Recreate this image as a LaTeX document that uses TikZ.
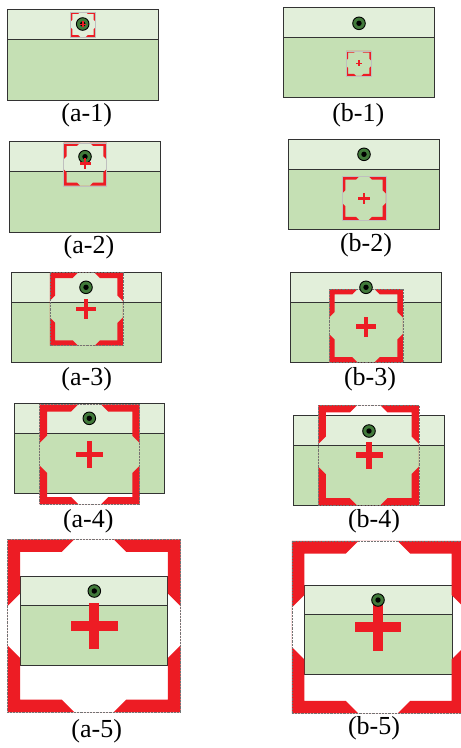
\documentclass[tikz,border=0pt]{standalone}
\usepackage{fontspec}
\setmainfont{Liberation Serif}
\definecolor{topg}{HTML}{E2EFDA}
\definecolor{botg}{HTML}{C5E0B4}
\definecolor{redx}{HTML}{ED1C24}
\definecolor{ring}{HTML}{41793A}
\definecolor{edge}{HTML}{333333}
% panel rectangle: x1 x2 ytop ydiv ybottom
\newcommand\panelrect[5]{%
  \fill[topg] (#1,#3) rectangle (#2,#4);
  \fill[botg] (#1,#4) rectangle (#2,#5);
  \draw[edge, line width=1pt] (#1,#4) -- (#2,#4);
  \draw[edge, line width=1pt] (#1,#3) rectangle (#2,#5);}
% red bracket frame: cx cy side
\newcommand\redframe[3]{%
  \begin{scope}[shift={(#1,#2)}, scale=#3/2]
    \fill[redx, even odd rule] (-1,-1) rectangle (1,1)
      (-0.373,0.854) -- (-0.227,1) -- (0.227,1) -- (0.373,0.854) -- (0.854,0.854)
      -- (0.854,0.373) -- (1,0.227) -- (1,-0.227) -- (0.854,-0.373) -- (0.854,-0.854)
      -- (0.373,-0.854) -- (0.227,-1) -- (-0.227,-1) -- (-0.373,-0.854) -- (-0.854,-0.854)
      -- (-0.854,-0.373) -- (-1,-0.227) -- (-1,0.227) -- (-0.854,0.373) -- (-0.854,0.854) -- cycle;
    \draw[black!55, densely dotted, line width=0.45pt] (-1,-1) rectangle (1,1);
  \end{scope}}
% red bracket frame without outline (small sizes)
\newcommand\redframesmall[3]{%
  \begin{scope}[shift={(#1,#2)}, scale=#3/2]
    \fill[redx, even odd rule] (-1,-1) rectangle (1,1)
      (-0.373,0.854) -- (-0.227,1) -- (0.227,1) -- (0.373,0.854) -- (0.854,0.854)
      -- (0.854,0.373) -- (1,0.227) -- (1,-0.227) -- (0.854,-0.373) -- (0.854,-0.854)
      -- (0.373,-0.854) -- (0.227,-1) -- (-0.227,-1) -- (-0.373,-0.854) -- (-0.854,-0.854)
      -- (-0.854,-0.373) -- (-1,-0.227) -- (-1,0.227) -- (-0.854,0.373) -- (-0.854,0.854) -- cycle;
    \draw[black!25, line width=0.3pt] (-1,-1) rectangle (1,1);
  \end{scope}}
% plus sign: cx cy halflength halfthickness
\newcommand\redplus[4]{%
  \begin{scope}[shift={(#1,#2)}]
    \fill[redx] (-#3,-#4) rectangle (#3,#4);
    \fill[redx] (-#4,-#3) rectangle (#4,#3);
  \end{scope}}
% target mark: cx cy
\newcommand\targetmark[2]{%
  \filldraw[fill=ring, draw=black, line width=0.9pt] (#1,#2) circle (6.3pt);
  \fill[black] (#1,#2) circle (2.7pt);}
\begin{document}
\begin{tikzpicture}[x=1pt, y=-1pt, lbl/.style={font=\fontsize{26}{30}\selectfont, inner sep=0pt}]
\useasboundingbox (0,0) rectangle (461,748);
\clip (0,0) rectangle (461,748);
\fill[white] (0,0) rectangle (461,748);
% (a-1)
\panelrect{7.5}{158.5}{9.5}{39.5}{100}
\redframesmall{83}{24.5}{25}
\targetmark{82.7}{24}
\redplus{82.7}{24.3}{3}{0.8}
\node[lbl] (la1) at (86.7,115) {(a-1)};
% (b-1)
\panelrect{283.5}{434.5}{7.5}{37.5}{97.5}
\redframesmall{358.7}{63.3}{25}
\redplus{358.7}{63.3}{3}{0.8}
\targetmark{359}{23.3}
\node[lbl] (lb1) at (358.3,115) {(b-1)};
% (a-2)
\panelrect{9.5}{160.5}{141}{171.5}{232}
\redframesmall{85}{164.2}{43}
\targetmark{85}{156.7}
\redplus{85}{163.3}{5.5}{1.3}
\node[lbl] (la2) at (89,247) {(a-2)};
% (b-2)
\panelrect{288.5}{439.5}{139.5}{169.5}{229.5}
\redframesmall{364}{198.3}{43.5}
\redplus{364}{198.3}{5.8}{1.3}
\targetmark{364}{154.3}
\node[lbl] (lb2) at (366,245) {(b-2)};
% (a-3)
\panelrect{11.5}{161.5}{272.5}{302.5}{362.5}
\redframe{86.3}{309.2}{73}
\targetmark{86}{287.3}
\redplus{86}{309}{10}{2.1}
\node[lbl] (la3) at (86.7,379) {(a-3)};
% (b-3)
\panelrect{290.5}{441.5}{272.5}{302.5}{362.5}
\redframe{366}{325.8}{73.5}
\redplus{366}{326.5}{10}{2.1}
\targetmark{366}{287.3}
\node[lbl] (lb3) at (370,379) {(b-3)};
% (a-4)
\panelrect{14.5}{164.5}{403.5}{433.5}{493.5}
\redframe{89.7}{454.3}{100}
\targetmark{89.3}{418.3}
\redplus{89.3}{454.3}{13.5}{2.7}
\node[lbl] (la4) at (88.3,521) {(a-4)};
% (b-4)
\panelrect{293.5}{444.5}{415}{445}{505.5}
\redframe{368.7}{455.3}{100.5}
\redplus{369}{455}{13.5}{2.7}
\targetmark{369}{431}
\node[lbl] (lb4) at (374,521) {(b-4)};
% (a-5)
\panelrect{20}{167.5}{576}{605.7}{665}
\redframe{94}{625.8}{173}
\targetmark{94.3}{591}
\redplus{94.3}{626}{23.4}{5}
\node[lbl] (la5) at (96.7,731) {(a-5)};
% (b-5)
\panelrect{304}{452.5}{585}{614.7}{674}
\redframe{378}{627.2}{172.5}
\redplus{378}{627.3}{23.4}{5}
\targetmark{378}{600}
\node[lbl] (lb5) at (374,728) {(b-5)};
\end{tikzpicture}
\end{document}
